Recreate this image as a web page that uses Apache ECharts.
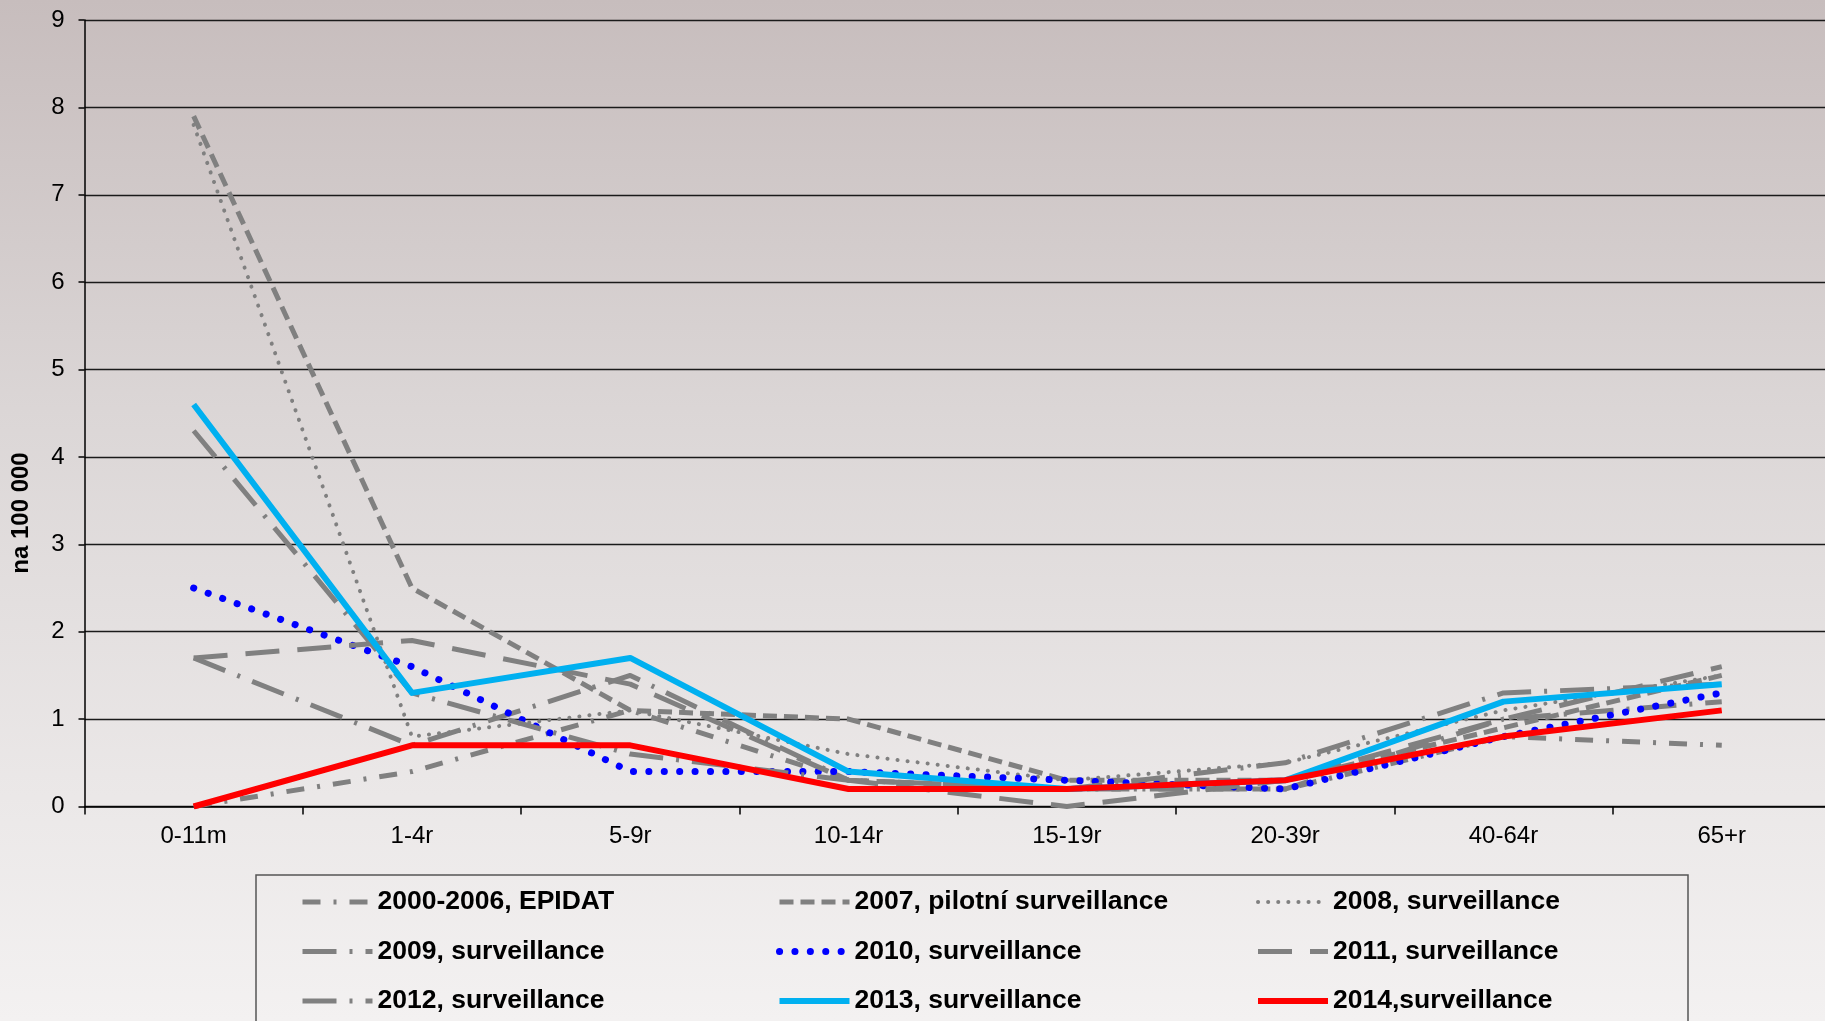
<!DOCTYPE html>
<html><head><meta charset="utf-8">
<script src="https://cdn.jsdelivr.net/npm/echarts@6/dist/echarts.min.js"></script>
<style>html,body{margin:0;padding:0;overflow:hidden;}#c{width:1825px;height:1021px;}</style>
</head><body><div id="c"></div>
<script>
// ---- data ----
const categories = ['0-11m', '1-4r', '5-9r', '10-14r', '15-19r', '20-39r', '40-64r', '65+r'];
const yTicks = [0, 1, 2, 3, 4, 5, 6, 7, 8, 9];
const seriesNames = ['2000-2006, EPIDAT', '2007, pilotní surveillance', '2008, surveillance',
  '2009, surveillance', '2010, surveillance', '2011, surveillance',
  '2012, surveillance', '2013, surveillance', '2014,surveillance'];
const v2000_2006 = [0.0, 0.4, 1.1, 0.3, 0.2, 0.2, 0.8, 0.7];
const v2007 = [7.9, 2.5, 1.1, 1.0, 0.3, 0.3, 0.9, 1.5];
const v2008 = [7.8, 0.8, 1.1, 0.6, 0.3, 0.5, 1.1, 1.5];
const v2009 = [1.7, 0.7, 1.5, 0.3, 0.2, 0.2, 1.0, 1.2];
const v2010 = [2.5, 1.6, 0.4, 0.4, 0.3, 0.2, 0.8, 1.3];
const v2011 = [1.7, 1.9, 1.4, 0.3, 0.0, 0.3, 1.0, 1.6];
const v2012 = [4.3, 1.3, 0.6, 0.3, 0.2, 0.5, 1.3, 1.4];
const v2013 = [4.6, 1.3, 1.7, 0.4, 0.2, 0.3, 1.2, 1.4];
const v2014 = [0.0, 0.7, 0.7, 0.2, 0.2, 0.3, 0.8, 1.1];
const allValues = [v2000_2006, v2007, v2008, v2009, v2010, v2011, v2012, v2013, v2014];

// ---- styles ----
const GRAY = '#808080';
const styles = [
  { color: GRAY, width: 5, type: [18, 13, 3, 13], cap: 'butt' },
  { color: GRAY, width: 5, type: [14, 7], cap: 'butt' },
  { color: GRAY, width: 4, type: [0.1, 10], cap: 'round' },
  { color: GRAY, width: 5, type: [34, 13, 3, 13], cap: 'butt' },
  { color: '#0000ff', width: 7, type: [0.1, 15.3], cap: 'round' },
  { color: GRAY, width: 5, type: [34, 18], cap: 'butt' },
  { color: GRAY, width: 5, type: [34, 13, 3, 13], cap: 'butt' },
  { color: '#00b0f0', width: 6, type: 'solid', cap: 'butt' },
  { color: '#ff0000', width: 6, type: 'solid', cap: 'butt' }
];

const FONT = 'Liberation Sans, Arial, sans-serif';
const series = seriesNames.map((n, i) => ({
  name: n,
  type: 'line',
  data: allValues[i],
  symbol: 'none',
  showSymbol: false,
  animation: false,
  lineStyle: { color: styles[i].color, width: styles[i].width, type: styles[i].type, cap: styles[i].cap, join: 'round' },
  itemStyle: { color: styles[i].color },
  z: 2 + i
}));

function legendItem(i) {
  const s = styles[i];
  return {
    name: seriesNames[i],
    lineStyle: { color: s.color, width: s.width, type: s.type, cap: s.cap },
    itemStyle: { color: 'rgba(0,0,0,0)', borderWidth: 0, opacity: 0 }
  };
}

const legendCommon = {
  orient: 'vertical', top: 887, padding: 0, itemWidth: 70, itemHeight: 14, itemGap: 19.5,
  selectedMode: false,
  itemStyle: { color: 'rgba(0,0,0,0)', borderWidth: 0, opacity: 0 },
  textStyle: { fontSize: 26.5, fontWeight: 'bold', color: '#000', fontFamily: FONT, lineHeight: 30 }
};

const chart = echarts.init(document.getElementById('c'), null, { renderer: 'canvas' });
chart.setOption({
  animation: false,
  backgroundColor: {
    type: 'linear', x: 0, y: 0, x2: 0, y2: 1,
    colorStops: [
      { offset: 0, color: '#c7bdbd' },
      { offset: 0.4, color: '#dbd6d6' },
      { offset: 0.78, color: '#ebe8e8' },
      { offset: 1, color: '#f3f1f1' }
    ]
  },
  grid: { left: 84.5, top: 20, width: 1746.4, height: 786.5, containLabel: false, outerBoundsMode: 'none' },
  xAxis: {
    type: 'category', data: categories, boundaryGap: true,
    axisLine: { show: true, lineStyle: { color: '#000', width: 1.5 } },
    axisTick: { show: true, length: 8, lineStyle: { color: '#000', width: 1.5 } },
    axisLabel: { fontSize: 24, color: '#000', fontFamily: FONT, margin: 18 },
    splitLine: { show: false }
  },
  yAxis: {
    type: 'value', min: yTicks[0], max: yTicks[yTicks.length - 1], interval: 1,
    axisLine: { show: true, lineStyle: { color: '#000', width: 1.5 } },
    axisTick: { show: true, length: 6, lineStyle: { color: '#000', width: 1.5 } },
    axisLabel: { fontSize: 24, color: '#000', fontFamily: FONT, margin: 20 },
    splitLine: { show: true, lineStyle: { color: '#1a1a1a', width: 1.4 } }
  },
  legend: [
    Object.assign({}, legendCommon, { left: 300, data: [legendItem(0), legendItem(3), legendItem(6)] }),
    Object.assign({}, legendCommon, { left: 776, data: [legendItem(1), legendItem(4), legendItem(7)] }),
    Object.assign({}, legendCommon, { left: 1255, data: [legendItem(2), legendItem(5), legendItem(8)] })
  ],
  graphic: [
    {
      type: 'text', x: 21, y: 513, rotation: Math.PI / 2,
      style: { text: 'na 100 000', font: 'bold 24px ' + FONT, fill: '#000', align: 'center', verticalAlign: 'middle' }
    },
    {
      type: 'rect', shape: { x: 256, y: 875, width: 1432, height: 200 },
      style: { fill: 'rgba(0,0,0,0)', stroke: '#555', lineWidth: 1.5 }, z: 0
    }
  ],
  series: series
});
</script>
</body></html>
